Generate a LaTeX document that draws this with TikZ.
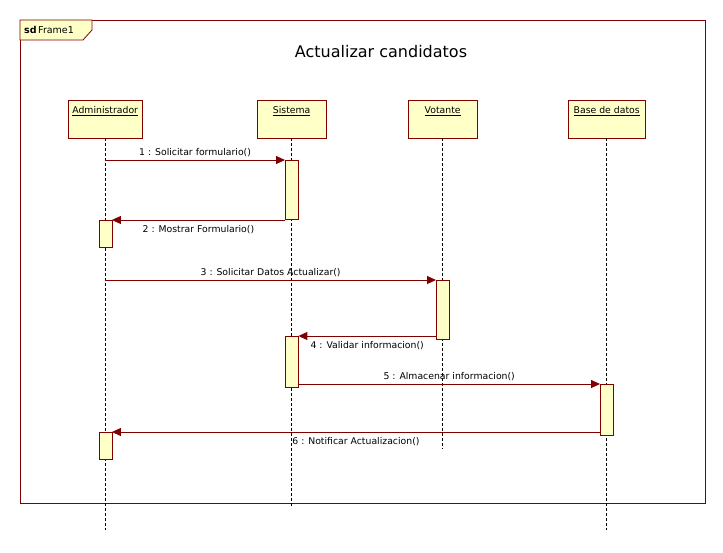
\documentclass[tikz,border=0pt]{standalone}
\usepackage{fontspec}
\setmainfont{DejaVu Sans}
\usetikzlibrary{arrows.meta,positioning}
\definecolor{umlRed}{RGB}{128,0,0}
\definecolor{umlYellow}{RGB}{255,255,200}

\tikzset{
	head/.style={draw=umlRed, fill=umlYellow, anchor=north west, minimum height=38pt,
		text height=8pt, text depth=20pt, inner xsep=2pt, inner ysep=5pt, font=\fontsize{9.3}{11}\selectfont},
	lifeline/.style={draw=black, dash pattern=on 3pt off 2pt, line width=0.8pt},
	act/.style={draw=umlRed, fill=umlYellow, minimum width=13pt, inner sep=0pt, anchor=north},
	msg/.style={draw=umlRed, line width=0.9pt, -{Triangle[length=9pt,width=8pt]}},
	msglabel/.style={font=\fontsize{9.3}{11}\selectfont, inner sep=3pt},
	msgbelow/.style={msglabel, below, inner ysep=5pt}
}

\begin{document}
\begin{tikzpicture}[x=1pt, y=-1pt]
			\useasboundingbox (0,0) rectangle (723,552);
			
			\node[draw=umlRed, line width=0.9pt, anchor=north west, minimum width=685pt, minimum height=483pt, inner sep=0pt] (frame) at (20,20) {};
			\draw[umlRed, fill=umlYellow, line width=0.8pt] (frame.north west) -- (92,20) -- (92,30) -- (83,40) -- (20,40) -- cycle;
			\node[anchor=west, font=\fontsize{9.5}{11}\selectfont, inner sep=0pt] (tag) at (24,30) {\textbf{sd}\,Frame1};
			\node[font=\fontsize{16}{19}\selectfont] (title) at (381,52) {Actualizar candidatos};
			
			\node[head, minimum width=74pt] (admin) at (68,100) {\underline{Administrador}};
			\node[head, minimum width=69pt] (sistema) at (257,100) {\underline{Sistema}};
			\node[head, minimum width=69pt] (votante) at (408,100) {\underline{Votante}};
			\node[head, minimum width=77pt] (bd) at (568,100) {\underline{Base de datos}};
			
			\draw[lifeline] (admin.south) -- (admin.south |- 0,530);
			\draw[lifeline] (sistema.south) -- (sistema.south |- 0,508);
			\draw[lifeline] (votante.south) -- (votante.south |- 0,449);
			\draw[lifeline] (bd.south) -- (bd.south |- 0,530);
			
			\node[act, minimum height=59pt] (sisA) at (sistema.south |- 0,160) {};
			\node[act, minimum height=27pt] (admA) at (admin.south |- 0,220) {};
			\node[act, minimum height=59pt] (votA) at (votante.south |- 0,280) {};
			\node[act, minimum height=51pt] (sisB) at (sistema.south |- 0,336) {};
			\node[act, minimum height=51pt] (bdA) at (bd.south |- 0,384) {};
			\node[act, minimum height=27pt] (admB) at (admin.south |- 0,432) {};
			
			\draw[msg] (admin.south |- sisA.north) -- node[msglabel, above] {1 : Solicitar formulario()} (sisA.north west);
			\draw[msg] (sisA.west |- admA.north) -- node[msgbelow] {2 : Mostrar Formulario()} (admA.north east);
			\draw[msg] (admin.south |- votA.north) -- node[msglabel, above] {3 : Solicitar Datos Actualizar()} (votA.north west);
			\draw[msg] (votA.west |- sisB.north) -- node[msgbelow] {4 : Validar informacion()} (sisB.north east);
			\draw[msg] (sisB.east |- bdA.north) -- node[msglabel, above] {5 : Almacenar informacion()} (bdA.north west);
			\draw[msg] (bdA.west |- admB.north) -- node[msgbelow] {6 : Notificar Actualizacion()} (admB.north east);
\end{tikzpicture}
\end{document}
